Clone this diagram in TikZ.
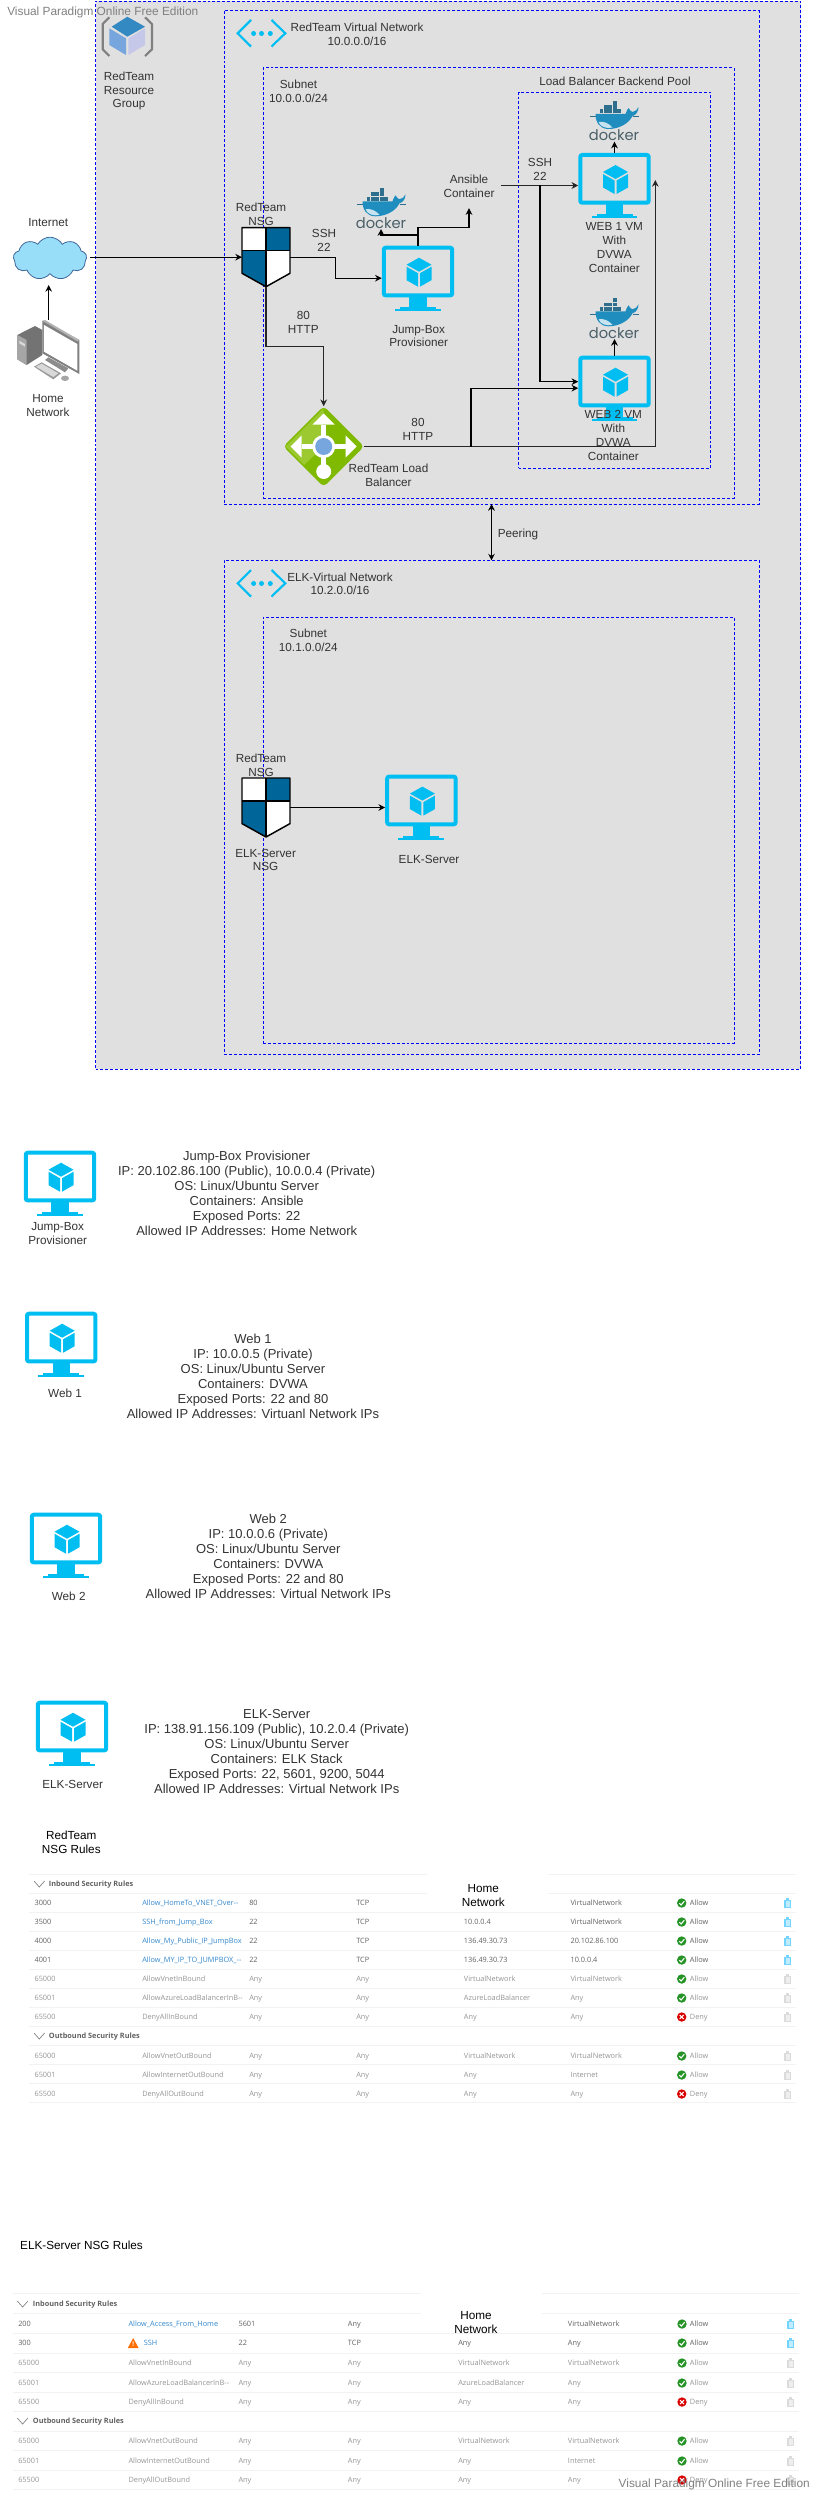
\documentclass[tikz,border=0pt]{standalone}
\usepackage{fontspec}
\setmainfont{Liberation Sans}
\newfontfamily\rulefont{Open Sans}
\newfontfamily\dockerfont{Poppins}
\usepackage{xcolor}
\usetikzlibrary{shapes, shapes.symbols, shapes.geometric, arrows.meta, positioning, calc}

\definecolor{vmblue}{HTML}{00BEF2}
\definecolor{zonegray}{HTML}{E0E0E0}
\definecolor{nsgblue}{HTML}{00669A}
\definecolor{lbgreen}{HTML}{7FBA00}
\definecolor{lblight}{HTML}{9BC92F}
\definecolor{whaleblue}{HTML}{1F8EBF}
\definecolor{boxteal}{HTML}{2E6F8E}
\definecolor{dockerink}{HTML}{4A5F68}

% VM monitor, name / centre x / top y
\newcommand{\vmicon}[3]{
	\begin{scope}[shift={(#2,#3)}]
		\node[vmbox] (#1) at (0,32.5) {};
		\draw[vmblue, line width=3pt, rounded corners=1.5pt] (-34.2,2) rectangle (34.2,49.7);
		\fill[vmblue] (-8.6,51) rectangle (8.6,63);
		\fill[vmblue] (-18,61) rectangle (18,63);
		\fill[vmblue] (-23,63) rectangle (22.5,65);
		\fill[vmblue] (1,12) -- (13.5,19) -- (1,26) -- (-11.5,19) -- cycle;
		\fill[vmblue] (-11.5,21) -- (0,27.5) -- (0,41) -- (-11.5,34.5) -- cycle;
		\fill[vmblue] (2,27.5) -- (13.5,21) -- (13.5,34.5) -- (2,41) -- cycle;
	\end{scope}
}

% Docker whale, name / centre x / top y
\newcommand{\dockericon}[3]{
	\begin{scope}[shift={(#2-25.5,#3)}]
		\node[dockerbox] (#1) at (25.5,20.85) {};
		\foreach \bx in {11,15.4,19.8,24.2,28.6} \fill[boxteal] (\bx,9.5) rectangle ++(3.8,3.8);
		\foreach \bx in {15.4,19.8,24.2} \fill[boxteal] (\bx,5.2) rectangle ++(3.8,3.8);
		\fill[boxteal] (24.2,0.9) rectangle ++(3.8,3.8);
		\fill[whaleblue] (7,14) -- (37,14) .. controls (38,11) and (39,9) .. (40,8)
			.. controls (42,10) and (42,12) .. (44,12) .. controls (47,12) and (49,9) .. (50,7)
			.. controls (50,11) and (48,15) .. (44,16) .. controls (40,24) and (30,29) .. (20,29)
			.. controls (11,29) and (7,22) .. (7,14) -- cycle;
		\fill[white!75!whaleblue] (10,22) .. controls (15,21) and (20,23) .. (24,27.5)
			.. controls (18,29) and (12,27) .. (10,22) -- cycle;
		\draw[boxteal, line width=.4pt] (1,16.7) -- (7,16.7) (44,16.7) -- (50,16.7);
		\node[dockerword] (#1word) at (25.5,35.5) {docker};
	\end{scope}
}

% NSG shield, name / centre x / top y
\newcommand{\shieldicon}[3]{
	\begin{scope}[shift={(#2,#3)}]
		\node[shieldbox] (#1) at (0,29.5) {};
		\fill[white] (-24,0) rectangle (24,23);
		\fill[nsgblue] (0,0) rectangle (24,23);
		\fill[nsgblue] (-24,23) -- (0,23) -- (0,59) -- (-24,45.6) -- cycle;
		\fill[white] (0,23) -- (24,23) -- (24,45.6) -- (0,59) -- cycle;
		\draw[black, line width=1.1pt, line join=round] (-24,0) -- (24,0) -- (24,45.6) -- (0,59) -- (-24,45.6) -- cycle;
		\draw[black, line width=1.1pt] (0,0) -- (0,59) (-24,23) -- (24,23);
	\end{scope}
}

% Virtual network brackets, name / left x / top y
\newcommand{\vneticon}[3]{
	\begin{scope}[shift={(#2,#3)}]
		\node[vnetbox] (#1) at (24.5,13.3) {};
		\draw[vmblue, line width=1.6pt] (14,0) -- (0.7,13.3) -- (14,26.5);
		\draw[vmblue, line width=1.6pt] (34.5,0) -- (48.3,13.3) -- (34.5,26.5);
		\foreach \dx in {16.6,24.5,33.3} \fill[vmblue] (\dx,13.5) circle (2.5);
	\end{scope}
}

% Rule table row: y / tone / priority / name / port / protocol / source / destination / action
\newcommand{\rulerow}[9]{
	\node[rulename#2] (r#1n) at (\colname,#1) {#4};
	\node[ruletext#2] (r#1p) at (\colprio,#1) {#3};
	\node[ruletext#2] (r#1o) at (\colport,#1) {#5};
	\node[ruletext#2] (r#1t) at (\colproto,#1) {#6};
	\node[ruletext#2] (r#1s) at (\colsrc,#1) {#7};
	\node[ruletext#2] (r#1d) at (\coldst,#1) {#8};
	\node[ruletext#2] (r#1a) at (\colact,#1) {#9};
	\csname actmark#9\endcsname{\colmark}{#1}
	\fill[trash#2] (\coltrash-3.3,#1-3) rectangle (\coltrash+3.3,#1+5);
	\fill[trash#2] (\coltrash-1.6,#1-5) rectangle (\coltrash+1.6,#1-3);
	\fill[white, opacity=.55] (\coltrash-2.2,#1-1.8) rectangle (\coltrash+2.2,#1+3.8);
}
\newcommand{\actmarkAllow}[2]{
	\fill[allowgreen] (#1,#2) circle (4.7);
	\draw[white, line width=.8pt] (#1-2.4,#2+.2) -- (#1-.6,#2+2) -- (#1+2.6,#2-1.8);
}
\newcommand{\actmarkDeny}[2]{
	\fill[denyred] (#1,#2) circle (4.7);
	\draw[white, line width=.8pt] (#1-2,#2-2) -- (#1+2,#2+2) (#1-2,#2+2) -- (#1+2,#2-2);
}
% Rule table section head: name / chevron x / text x / y / text
\newcommand{\rulehead}[5]{
	\draw[gray, line width=.5pt] (#2,#4-3) -- (#2+5.3,#4+3) -- (#2+10.6,#4-3);
	\node[ruletitle] (#1) at (#3,#4) {#5};
}

\begin{document}
\begin{tikzpicture}[
		x=0.75pt, y=-0.75pt,
		>={Stealth[length=5pt,width=5pt]},
		zone/.style={draw=blue, dash pattern=on 2.2pt off 1.5pt, line width=.5pt, inner sep=0pt, outer sep=0pt},
		lbl/.style={align=center, inner sep=0pt, text=black!80, font=\fontsize{8.8}{10.4}\selectfont},
		infotext/.style={align=center, inner sep=0pt, text=black!80, font=\fontsize{9.75}{11.25}\selectfont},
		watermark/.style={inner sep=0pt, text=black!50, font=\fontsize{8.9}{10.4}\selectfont},
		vmbox/.style={minimum width=54.4pt, minimum height=48.75pt, inner sep=0pt, outer sep=0pt},
		dockerbox/.style={minimum width=38.25pt, minimum height=31.3pt, inner sep=0pt, outer sep=0pt},
		dockerword/.style={inner sep=0pt, text=dockerink, font=\dockerfont\fontsize{11}{11}\selectfont},
		shieldbox/.style={minimum width=36pt, minimum height=44.25pt, inner sep=0pt, outer sep=0pt},
		vnetbox/.style={minimum width=36.75pt, minimum height=20pt, inner sep=0pt, outer sep=0pt},
		arr/.style={->, line width=.8pt, black},
		arrheavy/.style={->, line width=1.1pt, black!85},
		rulesep/.style={draw=black!5, line width=.5pt},
		ruletextlive/.style={anchor=west, inner sep=0pt, text height=4.2pt, text depth=1.2pt, text=black!62, font=\rulefont\fontsize{5.5}{6}\selectfont},
		ruletextidle/.style={anchor=west, inner sep=0pt, text height=4.2pt, text depth=1.2pt, text=black!42, font=\rulefont\fontsize{5.5}{6}\selectfont},
		rulenamelive/.style={anchor=west, inner sep=0pt, text height=4.2pt, text depth=1.2pt, text=blue!45!cyan!75!black!80, font=\rulefont\fontsize{5.5}{6}\selectfont},
		rulenameidle/.style={ruletextidle},
		ruletitle/.style={anchor=west, inner sep=0pt, text height=4.2pt, text depth=1.2pt, text=black!62, font=\rulefont\bfseries\fontsize{5.5}{6}\selectfont},
		trashlive/.style={fill=blue!30!cyan!55!white},
		trashidle/.style={fill=black!14},
		allowgreen/.style={fill=green!50!black!85},
		denyred/.style={fill=red!85!black},
	]
		% Resource group
		\node[zone, fill=zonegray, minimum width=528.75pt, minimum height=801pt] (rgroup) at (448,535) {};

		% RedTeam network
		\node[zone, minimum width=401.25pt, minimum height=370pt] (vnetred) at (491.5,257.35) {};
		\node[zone, minimum width=352.9pt, minimum height=322.9pt] (subnetred) at (498.75,282.75) {};
		\node[zone, minimum width=144.15pt, minimum height=282pt] (pool) at (614.6,280.3) {};

		% ELK network
		\node[zone, minimum width=401.25pt, minimum height=370.4pt] (vnetelk) at (491.5,807.35) {};
		\node[zone, minimum width=352.9pt, minimum height=319.5pt] (subnetelk) at (498.75,830) {};

		% Resource group icon
		\draw[black!50, line width=1.6pt, line join=round] (109.3,17.3) -- (102.7,24) -- (102.7,49.3) -- (109.3,56);
		\draw[black!50, line width=1.6pt, line join=round] (145,17.3) -- (152,24) -- (152,49.3) -- (145,56);
		\fill[blue!40!cyan!70!black!80] (127.3,16.7) -- (145,26.7) -- (127.3,36.7) -- (111.7,26.7) -- cycle;
		\fill[cyan!55!blue!55!white] (109.3,28.3) -- (126,38.3) -- (126,55) -- (109.3,45) -- cycle;
		\fill[cyan!25!blue!22!white] (128.3,38.3) -- (145,28.3) -- (145,45) -- (128.3,55) -- cycle;
		\node[lbl] (rglabel) at (129,91) {RedTeam\\Resource\\Group};

		% Internet and home network
		\node[cloud, cloud puffs=9, cloud puff arc=120, aspect=1.7, draw=cyan!50!blue!70!black, fill=cyan!40!white,
			minimum width=55pt, minimum height=32pt, inner sep=0pt, line width=.6pt] (internet) at (50,258.5) {};
		\node[lbl] (internetlabel) at (48.3,222.7) {Internet};
		\node[minimum width=46.5pt, minimum height=46.5pt, inner sep=0pt, outer sep=0pt] (home) at (48.7,351) {};
		\coordinate (cloudfoot) at (48.7,285);
		\coordinate (cloudtail) at (90,257.2);
		\begin{scope}[shift={(0,200)}, xscale=1/3, yscale=1/3]
			\fill[black!55] (52,405) -- (105,378) -- (127,390) -- (127,465) -- (80,495) -- (52,478) -- cycle;
			\fill[black!35] (52,405) -- (80,420) -- (80,495) -- (52,478) -- cycle;
			\fill[black!15] (58,422) -- (75,432) -- (75,440) -- (58,430) -- cycle;
			\fill[black!45] (135,480) -- (145,472) -- (205,505) -- (195,517) -- cycle;
			\fill[black!40] (102,500) -- (125,487) -- (183,520) -- (160,538) -- cycle;
			\fill[black!15] (108,500) -- (125,491) -- (175,520) -- (160,531) -- cycle;
			\fill[black!35] (195,535) ellipse (12 and 8);
			\fill[black!50] (127,362) -- (238,420) -- (238,522) -- (127,460) -- cycle;
			\fill[black!30] (127,362) -- (135,360) -- (238,420) -- (232,424) -- cycle;
			\fill[white] (132,375) -- (232,432) -- (232,512) -- (132,455) -- cycle;
		\end{scope}
		\node[lbl] (homelabel) at (48,405.7) {Home\\Network};

		% RedTeam network icons and labels
		\vneticon{vnetredicon}{237}{20}
		\node[lbl] (vnetredlabel) at (357,34) {RedTeam Virtual Network\\10.0.0.0/16};
		\node[lbl] (subnetredlabel) at (298.5,91) {Subnet\\10.0.0.0/24};
		\node[lbl] (poollabel) at (615,81) {Load Balancer Backend Pool};

		% Load balancer
		\node[diamond, aspect=1, fill=lbgreen, rounded corners=3pt, minimum width=60.5pt, minimum height=60.5pt, inner sep=0pt, outer sep=0pt] (lb) at (323.7,446.5) {};
		\fill[lblight] (323.7,408.5) -- (285.5,446.5) -- (304,465) -- (323.7,446.5) -- cycle;
		\begin{scope}[shift={(323.7,446.5)}]
			\fill[white] (-2.6,-22) rectangle (2.6,22);
			\fill[white] (-22,-2.6) rectangle (22,2.6);
			\fill[white] (0,-33) -- (11,-22) -- (-11,-22) -- cycle;
			\fill[white] (-33,0) -- (-22,-11) -- (-22,11) -- cycle;
			\fill[white] (33,0) -- (22,-11) -- (22,11) -- cycle;
			\fill[white] (0,25) circle (7.5);
			\fill[white] (0,0) circle (11.5);
			\fill[cyan!55!blue!55!white] (0,0) circle (8.5);
		\end{scope}

		% Shield, hosts and containers
		\shieldicon{nsgred}{266}{227.7}
		\vmicon{jump}{418}{245.7}
		\vmicon{webone}{614.5}{153}
		\vmicon{webtwo}{614.5}{355.7}
		\dockericon{dockerjump}{381}{187.3}
		\dockericon{dockerone}{614}{100}
		\dockericon{dockertwo}{614}{297.3}

		\node[lbl] (nsgredlabel) at (261,214.7) {RedTeam\\NSG};
		\node[lbl] (jumplabel) at (418.7,336) {Jump-Box\\Provisioner};
		\node[lbl] (ansible) at (469,186.7) {Ansible\\Container};
		\node[lbl] (webonelabel) at (614.3,247.7) {WEB 1 VM\\With\\DVWA\\Container};
		\node[lbl] (webtwolabel) at (613.3,435.3) {WEB 2 VM\\With\\DVWA\\Container};
		\node[lbl] (lblabel) at (388.5,475.7) {RedTeam Load\\Balancer};

		% Fixed bends and line ends
		\coordinate (sshbend) at (335.7,257.2);
		\coordinate (sshfork) at (540,185.5);
		\coordinate (lbfork) at (471,446.5);
		\coordinate (webtap) at (655.3,180);

		% Arrows
		\draw[arr] (cloudtail) -- (nsgred.west);
		\draw[arr] (home.north) -- (cloudfoot);
		\draw[arr] (nsgred.east) -- (sshbend) |- (jump.west);
		\draw[arrheavy] (nsgred.south) -- ++(0,60) -| (lb.north);
		\draw[arr] (jump.north) -- ++(0,-10.7) -| (dockerjump.south);
		\draw[arr] (jump.north) -- ++(0,-18.4) -| ([yshift=-7.5pt]ansible.south);
		\draw[arrheavy] ([xshift=5pt]ansible.east |- webone.west) -- (webone.west);
		\draw[arr] (sshfork) |- ([yshift=4.9pt]webtwo.west);
		\draw[arrheavy] (lb.east) -| (webtap);
		\draw[arr] (lbfork) |- (webtwo.west);
		\draw[arr] (webone.north) -- (webone.north |- dockerone.south);
		\draw[arr] (webtwo.north) -- (webtwo.north |- dockertwo.south);
		\draw[<->, line width=.8pt] (vnetred.south) -- (vnetelk.north);

		% Arrow labels
		\node[lbl] (sshjump) at (324,240.5) {SSH\\22};
		\node[lbl] (httpnsg) at (303.3,322.3) {80\\HTTP};
		\node[lbl] (httplb) at (418,429.7) {80\\HTTP};
		\node[lbl] (sshweb) at (540,169.7) {SSH\\22};
		\node[lbl] (peering) at (518,534.6) {Peering};

		% ELK network icons and labels
		\vneticon{vnetelkicon}{237}{570}
		\node[lbl] (vnetelklabel) at (340,583.8) {ELK-Virtual Network\\10.2.0.0/16};
		\node[lbl] (subnetelklabel) at (308.3,640.7) {Subnet\\10.1.0.0/24};
		\shieldicon{nsgelk}{266}{778}
		\vmicon{elk}{421.4}{774.6}
		\node[lbl] (nsgelktop) at (261,764.9) {RedTeam\\NSG};
		\node[lbl] (nsgelklabel) at (265.6,859.9) {ELK-Server\\NSG};
		\node[lbl] (elklabel) at (429,859.6) {ELK-Server};
		\draw[arr] (nsgelk.east) -- (nsgelk.east -| elk.west);

		% Host cards
		\vmicon{cardjump}{60}{1150.7}
		\node[lbl] (cardjumplabel) at (57.7,1233.7) {Jump-Box\\Provisioner};
		\node[infotext] (cardjumpinfo) at (246.7,1193.8) {Jump-Box Provisioner\\IP: 20.102.86.100 (Public), 10.0.0.4 (Private)\\OS: Linux/Ubuntu Server\\Containers: Ansible\\Exposed Ports: 22\\Allowed IP Addresses: Home Network};

		\vmicon{cardweba}{61.2}{1311.7}
		\node[lbl] (cardwebalabel) at (65,1393.7) {Web 1};
		\node[infotext] (cardwebainfo) at (253,1376.8) {Web 1\\IP: 10.0.0.5 (Private)\\OS: Linux/Ubuntu Server\\Containers: DVWA\\Exposed Ports: 22 and 80\\Allowed IP Addresses: Virtuanl Network IPs};

		\vmicon{cardwebb}{66}{1512.7}
		\node[lbl] (cardwebblabel) at (68.7,1596.7) {Web 2};
		\node[infotext] (cardwebbinfo) at (268.3,1556.8) {Web 2\\IP: 10.0.0.6 (Private)\\OS: Linux/Ubuntu Server\\Containers: DVWA\\Exposed Ports: 22 and 80\\Allowed IP Addresses: Virtual Network IPs};

		\vmicon{cardelk}{72}{1700.7}
		\node[lbl] (cardelklabel) at (72.7,1784.7) {ELK-Server};
		\node[infotext] (cardelkinfo) at (276.7,1751.8) {ELK-Server\\IP: 138.91.156.109 (Public), 10.2.0.4 (Private)\\OS: Linux/Ubuntu Server\\Containers: ELK Stack\\Exposed Ports: 22, 5601, 9200, 5044\\Allowed IP Addresses: Virtual Network IPs};

		% RedTeam NSG rules
		\node[lbl, text=black] (redrulestitle) at (71.3,1842.7) {RedTeam\\NSG Rules};
		\foreach \ly in {1874,1893,1912,1931,1950,1969,1988,2007,2026,2045,2064,2083,2102}
			\draw[rulesep] (29.3,\ly) -- (796,\ly);
		\def\colprio{34.3}\def\colname{142}\def\colport{249}\def\colproto{356}\def\colsrc{463.7}\def\coldst{570.3}\def\colmark{681.7}\def\colact{689.7}\def\coltrash{787.7}
		\rulehead{redinhead}{34}{48.7}{1884}{Inbound Security Rules}
		\rulerow{1903}{live}{3000}{Allow\_HomeTo\_VNET\_Over-{}-}{80}{TCP}{}{VirtualNetwork}{Allow}
		\rulerow{1922}{live}{3500}{SSH\_from\_Jump\_Box}{22}{TCP}{10.0.0.4}{VirtualNetwork}{Allow}
		\rulerow{1941}{live}{4000}{Allow\_My\_Public\_IP\_JumpBox}{22}{TCP}{136.49.30.73}{20.102.86.100}{Allow}
		\rulerow{1960}{live}{4001}{Allow\_MY\_IP\_TO\_JUMPBOX\_-{}-}{22}{TCP}{136.49.30.73}{10.0.0.4}{Allow}
		\rulerow{1979}{idle}{65000}{AllowVnetInBound}{Any}{Any}{VirtualNetwork}{VirtualNetwork}{Allow}
		\rulerow{1998}{idle}{65001}{AllowAzureLoadBalancerInB-{}-}{Any}{Any}{AzureLoadBalancer}{Any}{Allow}
		\rulerow{2017}{idle}{65500}{DenyAllInBound}{Any}{Any}{Any}{Any}{Deny}
		\rulehead{redouthead}{34}{48.7}{2036}{Outbound Security Rules}
		\rulerow{2056}{idle}{65000}{AllowVnetOutBound}{Any}{Any}{VirtualNetwork}{VirtualNetwork}{Allow}
		\rulerow{2075}{idle}{65001}{AllowInternetOutBound}{Any}{Any}{Any}{Internet}{Allow}
		\rulerow{2094}{idle}{65500}{DenyAllOutBound}{Any}{Any}{Any}{Any}{Deny}
		\node[fill=white, minimum width=90.5pt, minimum height=28.5pt, inner sep=0pt] (redpatch) at (487.7,1892) {};
		\node[lbl, text=black] (redhome) at (483.3,1895.7) {Home\\Network};

		% ELK-Server NSG rules
		\node[lbl, text=black] (elkrulestitle) at (81.5,2245.7) {ELK-Server NSG Rules};
		\foreach \ly in {2293,2313,2333,2353,2372,2392,2411,2431,2450,2470,2489}
			\draw[rulesep] (13.3,\ly) -- (799,\ly);
		\def\colprio{18}\def\colname{128.3}\def\colport{238.3}\def\colproto{347.7}\def\colsrc{458}\def\coldst{567.7}\def\colmark{682}\def\colact{689.7}\def\coltrash{790.7}
		\rulehead{elkinhead}{17.3}{32.7}{2304}{Inbound Security Rules}
		\rulerow{2324}{live}{200}{Allow\_Access\_From\_Home}{5601}{Any}{}{VirtualNetwork}{Allow}
		\rulerow{2343}{live}{300}{\hspace*{11.5pt}SSH}{22}{TCP}{Any}{Any}{Allow}
		\rulerow{2363}{idle}{65000}{AllowVnetInBound}{Any}{Any}{VirtualNetwork}{VirtualNetwork}{Allow}
		\rulerow{2383}{idle}{65001}{AllowAzureLoadBalancerInB-{}-}{Any}{Any}{AzureLoadBalancer}{Any}{Allow}
		\rulerow{2402}{idle}{65500}{DenyAllInBound}{Any}{Any}{Any}{Any}{Deny}
		\rulehead{elkouthead}{17.3}{32.7}{2421}{Outbound Security Rules}
		\rulerow{2441}{idle}{65000}{AllowVnetOutBound}{Any}{Any}{VirtualNetwork}{VirtualNetwork}{Allow}
		\rulerow{2461}{idle}{65001}{AllowInternetOutBound}{Any}{Any}{Any}{Internet}{Allow}
		\rulerow{2480}{idle}{65500}{DenyAllOutBound}{Any}{Any}{Any}{Any}{Deny}
		\fill[orange!85!red] (133.2,2338) -- (138.6,2348) -- (127.8,2348) -- cycle;
		\node[inner sep=0pt, text=white, font=\bfseries\fontsize{5}{5}\selectfont] (warnmark) at (133.2,2344.3) {!};
		\node[fill=white, minimum width=91pt, minimum height=28.5pt, inner sep=0pt] (elkpatch) at (481.3,2311) {};
		\node[lbl, text=black] (elkhome) at (476,2322.7) {Home\\Network};

		% Watermarks
		\node[watermark, anchor=west] (marktop) at (7,12) {Visual Paradigm Online Free Edition};
		\node[watermark, anchor=east] (markbottom) at (810,2484.7) {Visual Paradigm Online Free Edition};

		\useasboundingbox (0,0) rectangle (816,2494);
	\end{tikzpicture}
\end{document}
